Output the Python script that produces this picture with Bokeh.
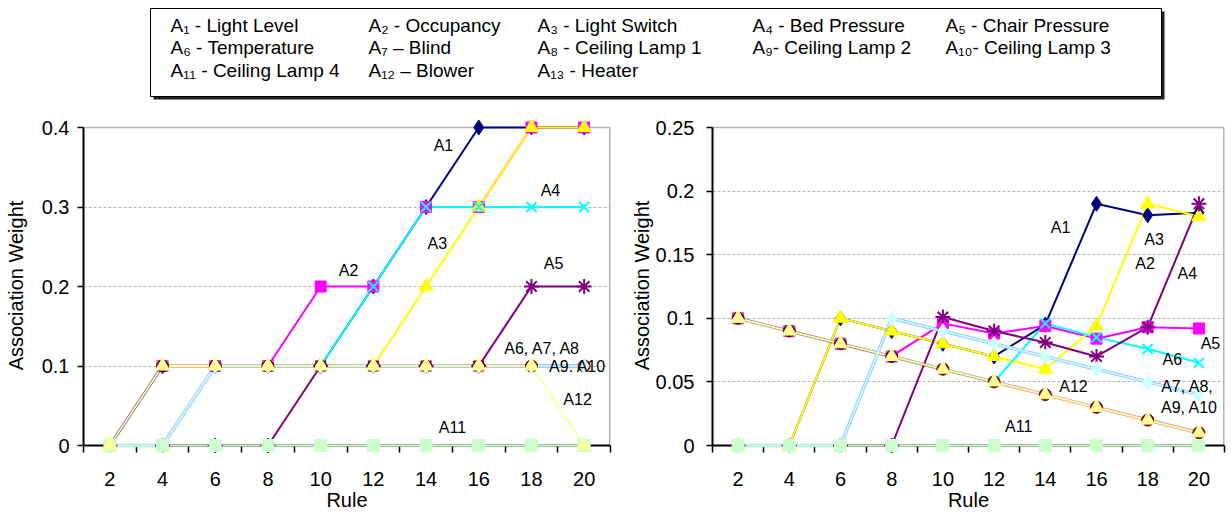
from bokeh.plotting import figure
from bokeh.layouts import column, row
from bokeh.models import Range1d, FixedTicker, NumeralTickFormatter
from bokeh.core.properties import value
from bokeh.embed import file_html
from bokeh.resources import INLINE

FONT = "Liberation Sans"

# ---------------- data ----------------
rules = [2, 4, 6, 8, 10, 12, 14, 16, 18, 20]

# left chart
left_A1 = [0, 0.1, 0.1, 0.1, 0.1, 0.2, 0.3, 0.4, 0.4, 0.4]
left_A2 = [0, 0.1, 0.1, 0.1, 0.2, 0.2, 0.3, 0.3, 0.4, 0.4]
left_A3 = [0, 0, 0.1, 0.1, 0.1, 0.1, 0.2, 0.3, 0.4, 0.4]
left_A4 = [0, 0.1, 0.1, 0.1, 0.1, 0.2, 0.3, 0.3, 0.3, 0.3]
left_A5 = [0, 0, 0, 0, 0.1, 0.1, 0.1, 0.1, 0.2, 0.2]
left_A6 = [0, 0.1, 0.1, 0.1, 0.1, 0.1, 0.1, 0.1, 0.1, 0.1]
left_A7 = [0, 0.1, 0.1, 0.1, 0.1, 0.1, 0.1, 0.1, 0.1, 0.1]
left_A8 = [0, 0.1, 0.1, 0.1, 0.1, 0.1, 0.1, 0.1, 0.1, 0.1]
left_A9 = [0, 0, 0.1, 0.1, 0.1, 0.1, 0.1, 0.1, 0.1, 0.1]
left_A10 = [0, 0, 0.1, 0.1, 0.1, 0.1, 0.1, 0.1, 0.1, 0.1]
left_A11 = [0, 0, 0, 0, 0, 0, 0, 0, 0, 0]
left_A12 = [0, 0.1, 0.1, 0.1, 0.1, 0.1, 0.1, 0.1, 0.1, 0]
left_A13 = [0, 0, 0.1, 0.1, 0.1, 0.1, 0.1, 0.1, 0.1, 0.1]

# right chart
right_A1 = [0, 0, 0.1, 0.09, 0.08, 0.07, 0.095, 0.19, 0.181, 0.183]
right_A2 = [0.1, 0.09, 0.08, 0.07, 0.096, 0.088, 0.094, 0.084, 0.093, 0.092]
right_A3 = [0, 0, 0.1, 0.09, 0.08, 0.07, 0.06, 0.094, 0.19, 0.18]
right_A4 = [0.1, 0.09, 0.08, 0.07, 0.06, 0.05, 0.096, 0.085, 0.076, 0.065]
right_A5 = [0, 0, 0, 0, 0.101, 0.09, 0.081, 0.07, 0.093, 0.19]
right_A6 = [0.1, 0.09, 0.08, 0.07, 0.06, 0.05, 0.04, 0.03, 0.02, 0.01]
right_A7 = [0, 0, 0, 0.1, 0.09, 0.08, 0.07, 0.06, 0.05, 0.04]
right_A8 = [0, 0, 0, 0.1, 0.09, 0.08, 0.07, 0.06, 0.05, 0.04]
right_A9 = [0, 0, 0, 0.1, 0.09, 0.08, 0.07, 0.06, 0.05, 0.04]
right_A10 = [0, 0, 0, 0.1, 0.09, 0.08, 0.07, 0.06, 0.05, 0.04]
right_A11 = [0, 0, 0, 0, 0, 0, 0, 0, 0, 0]
right_A12 = [0.1, 0.09, 0.08, 0.07, 0.06, 0.05, 0.04, 0.03, 0.02, 0.01]
right_A13 = [0, 0, 0, 0.1, 0.09, 0.08, 0.07, 0.06, 0.05, 0.04]

left_series = [left_A1, left_A2, left_A3, left_A4, left_A5, left_A6, left_A7,
               left_A8, left_A9, left_A10, left_A11, left_A12, left_A13]
right_series = [right_A1, right_A2, right_A3, right_A4, right_A5, right_A6, right_A7,
                right_A8, right_A9, right_A10, right_A11, right_A12, right_A13]

left_yticks = [0, 0.1, 0.2, 0.3, 0.4]
right_yticks = [0, 0.05, 0.1, 0.15, 0.2, 0.25]

legend_rows = [
    ["A\u2081 - Light Level", "A\u2082 - Occupancy", "A\u2083 - Light Switch",
     "A\u2084 - Bed Pressure", "A\u2085 - Chair Pressure"],
    ["A\u2086 - Temperature", "A\u2087 \u2013 Blind", "A\u2088 - Ceiling Lamp 1",
     "A\u2089- Ceiling Lamp 2", "A\u2081\u2080- Ceiling Lamp 3"],
    ["A\u2081\u2081 - Ceiling Lamp 4", "A\u2081\u2082 \u2013 Blower", "A\u2081\u2083 - Heater"],
]

left_notes = ["A1", "A2", "A3", "A4", "A5", "A6, A7, A8", "A9. A10", "A12", "A11"]
left_notes_x = [14.66, 11.06, 14.43, 18.72, 18.84, 18.42, 19.75, 19.75, 15.0]
left_notes_y = [0.377, 0.22, 0.254, 0.321, 0.229, 0.122, 0.099, 0.058, 0.023]

right_notes = ["A1", "A3", "A2", "A4", "A5", "A6", "A7, A8,", "A9, A10", "A12", "A11"]
right_notes_x = [14.6, 18.25, 17.9, 19.55, 20.45, 18.96, 19.55, 19.63, 15.1, 12.96]
right_notes_y = [0.171, 0.162, 0.143, 0.135, 0.080, 0.068, 0.046, 0.030, 0.046, 0.015]

# ---------------- styles ----------------
styles = [
    dict(color="#000080", marker="diamond", size=15, lw=2, la=1.0),
    dict(color="#FF00FF", marker="square", size=11, lw=2, la=1.0),
    dict(color="#FFFF00", marker="triangle", size=14, lw=2, la=1.0),
    dict(color="#00FFFF", marker="x", size=14, lw=2, la=1.0),
    dict(color="#800080", marker="asterisk", size=15, lw=2, la=1.0),
    dict(color="#800000", marker="circle", size=12, lw=3.5, la=0.35),
    dict(color="#008080", marker="dot", size=4, lw=1.5, la=1.0),
    dict(color="#0000FF", marker="dot", size=4, lw=1.5, la=1.0),
    dict(color="#00CCFF", marker="dot", size=4, lw=1.5, la=1.0),
    dict(color="#CCFFFF", marker="diamond", size=15, lw=1.5, la=1.0),
    dict(color="#CCFFCC", marker="square", size=12, lw=2, la=1.0),
    dict(color="#FFFF99", marker="triangle", size=14, lw=1.8, la=1.0),
    dict(color="#99CCFF", marker="dot", size=4, lw=3.5, la=1.0),
]
draw_order = [0, 1, 2, 3, 4, 5, 6, 7, 8, 12, 9, 10, 11]
PAD_TOP = 7   # px of room above the top value for markers
PAD_BOT = 5   # px of room below zero for markers


def make_chart(series, yticks, frame_w, frame_core_h, border_left, border_right,
               ylab_standoff, ytick_standoff, notes, nx, ny):
    ymax = yticks[-1]
    ppu = frame_core_h / ymax
    xmin, xmax = rules[0] - 1, rules[-1] + 1
    p = figure(frame_width=frame_w, frame_height=frame_core_h + PAD_TOP + PAD_BOT,
               x_range=Range1d(xmin, xmax),
               y_range=Range1d(-PAD_BOT / ppu, ymax + PAD_TOP / ppu),
               output_backend="svg", toolbar_location=None,
               min_border_left=border_left, min_border_right=border_right,
               min_border_top=20, min_border_bottom=65)
    p.outline_line_color = None
    p.background_fill_color = "white"
    p.border_fill_color = "white"

    # x axis (category-style ticks between rules), zero line drawn separately
    xa = p.xaxis[0]
    xa.ticker = FixedTicker(ticks=rules, minor_ticks=[r - 1 for r in rules] + [xmax])
    xa.major_tick_out = 0
    xa.major_tick_in = 0
    xa.minor_tick_in = PAD_BOT
    xa.minor_tick_out = 2
    xa.minor_tick_line_width = 1.5
    xa.minor_tick_line_color = "black"
    xa.axis_line_color = None
    xa.major_label_text_font = FONT
    xa.major_label_text_font_size = "20px"
    xa.major_label_text_color = "black"
    xa.major_label_standoff = 19
    xa.axis_label = "Rule"
    xa.axis_label_text_font = FONT
    xa.axis_label_text_font_size = "20px"
    xa.axis_label_text_font_style = "normal"
    xa.axis_label_text_color = "black"
    xa.axis_label_standoff = 0

    ya = p.yaxis[0]
    ya.ticker = FixedTicker(ticks=yticks)
    ya.formatter = NumeralTickFormatter(format="0.[00]")
    ya.bounds = (0, ymax)
    ya.major_tick_out = 6
    ya.major_tick_in = 0
    ya.major_tick_line_width = 1.5
    ya.minor_tick_out = 0
    ya.minor_tick_in = 0
    ya.axis_line_width = 2
    ya.axis_line_color = "black"
    ya.major_label_text_font = FONT
    ya.major_label_text_font_size = "20px"
    ya.major_label_text_color = "black"
    ya.major_label_standoff = ytick_standoff
    ya.axis_label = "Association Weight"
    ya.axis_label_text_font = FONT
    ya.axis_label_text_font_size = "20px"
    ya.axis_label_text_font_style = "normal"
    ya.axis_label_text_color = "black"
    ya.axis_label_standoff = ylab_standoff

    p.xgrid.visible = False
    p.ygrid.ticker = FixedTicker(ticks=yticks[1:-1])
    p.ygrid.grid_line_color = "#b4b4b4"
    p.ygrid.grid_line_dash = "3 2"
    p.ygrid.grid_line_width = 1

    # plot-area border (top and right, gray) and the black zero line
    p.segment(x0=[xmin], y0=[ymax], x1=[xmax], y1=[ymax], line_color="#b4b4b4", line_width=1.5)
    p.segment(x0=[xmax], y0=[0], x1=[xmax], y1=[ymax], line_color="#b4b4b4", line_width=3)
    p.segment(x0=[xmin], y0=[0], x1=[xmax], y1=[0], line_color="black", line_width=2)

    for i in draw_order:
        st = styles[i]
        r = p.line(rules, series[i], line_color=st["color"], line_width=st["lw"],
                   line_alpha=st["la"])
        r.level = "overlay"
    for i in draw_order:
        st = styles[i]
        m = st["marker"]
        if m in ("x", "asterisk"):
            r = p.scatter(rules, series[i], marker=m, size=st["size"],
                          line_color=st["color"], line_width=2)
        else:
            r = p.scatter(rules, series[i], marker=m, size=st["size"],
                          fill_color=st["color"], line_color=st["color"], line_width=1)
        r.level = "overlay"

    t = p.text(x=nx, y=ny, text=notes, text_align="center", text_baseline="middle",
               text_font=value(FONT), text_font_size="16px", text_color="black")
    t.level = "overlay"
    return p


left = make_chart(left_series, left_yticks, 527, 318, 83, 10, 12, 8,
                  left_notes, left_notes_x, left_notes_y)
right = make_chart(right_series, right_yticks, 512, 318, 92, 5, 0, 12,
                   right_notes, right_notes_x, right_notes_y)

# ---------------- legend box ----------------
leg = figure(width=1229, height=100, x_range=Range1d(0, 1229), y_range=Range1d(100, 0),
             output_backend="svg", toolbar_location=None, min_border=0,
             x_axis_location=None, y_axis_location=None)
leg.grid.visible = False
leg.outline_line_color = None
leg.quad(left=[153], right=[1164], top=[11], bottom=[99], fill_color="#202020", line_color=None)
leg.quad(left=[150], right=[1161], top=[8], bottom=[96], fill_color="white",
         line_color="black", line_width=1)
col_x = [170, 368, 537, 752, 945]
row_y = [25, 47, 70]
lx, ly, lt = [], [], []
for ri, items in enumerate(legend_rows):
    for ci, txt in enumerate(items):
        lx.append(col_x[ci])
        ly.append(row_y[ri])
        lt.append(txt)
leg.text(x=lx, y=ly, text=lt, text_align="left", text_baseline="middle",
         text_font=value(FONT), text_font_size="19px", text_color="black")

layout = column(leg, row(left, right, spacing=0), spacing=0)
open("out.html", "w").write(file_html(layout, INLINE))
